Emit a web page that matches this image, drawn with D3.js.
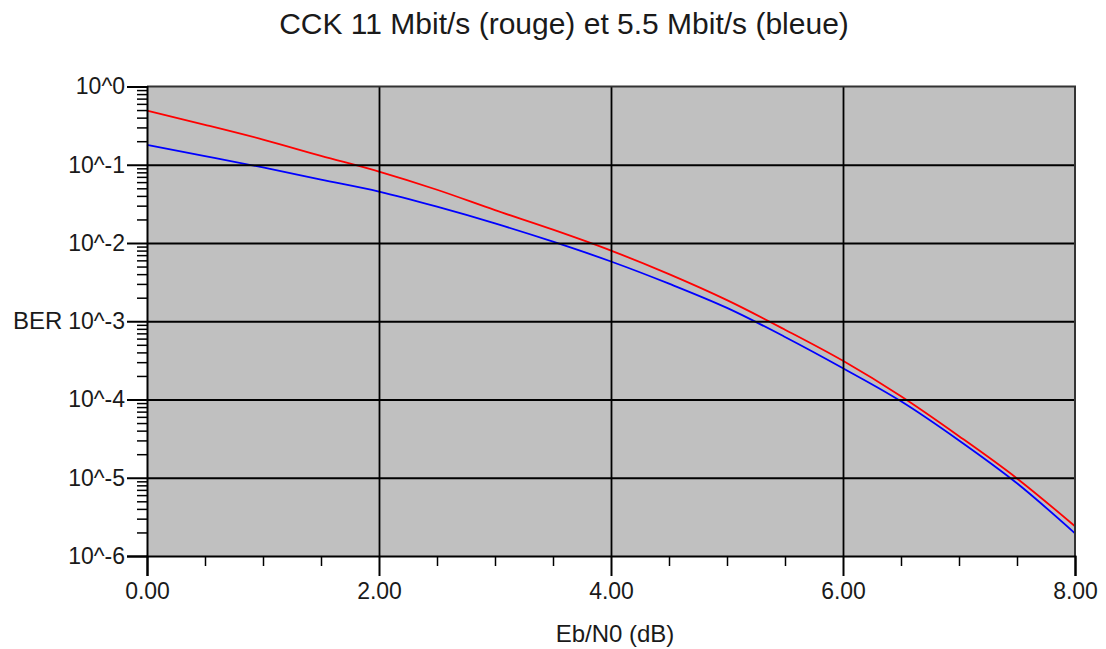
<!DOCTYPE html>
<html>
<head>
<meta charset="utf-8">
<script src="https://cdn.jsdelivr.net/npm/d3@7"></script>
<style>
	body { margin: 0; background: #fff; }
	text { font-family: "Liberation Sans", Arial, sans-serif; fill: #1a1a1a; }
</style>
</head>
<body>
<div id="chart"></div>
<script>
// Eb/N0 values (dB) at which the curves were read
var ebn0 = [0, 0.5, 1, 1.5, 2, 2.5, 3, 3.5, 4, 4.5, 5, 5.5, 6, 6.5, 7, 7.5, 8];

// CCK 11 Mbit/s (red)
var ber11 = [0.49, 0.324, 0.21, 0.13, 0.0817, 0.0479, 0.0263, 0.0148, 0.0080,
             0.0040, 0.00186, 0.00078, 0.000312, 0.00011, 3.4e-5, 9.8e-6, 2.4e-6];

// CCK 5.5 Mbit/s (blue)
var ber55 = [0.179, 0.129, 0.0923, 0.0646, 0.0454, 0.0291, 0.0178, 0.0104, 0.0058,
             0.00302, 0.00148, 0.00063, 0.000251, 9.5e-5, 3.0e-5, 8.5e-6, 1.95e-6];

// axis ticks and labels
var xTicks = [0, 2, 4, 6, 8];
var xTickLabels = ["0.00", "2.00", "4.00", "6.00", "8.00"];
var yTicks = [1, 1e-1, 1e-2, 1e-3, 1e-4, 1e-5, 1e-6];
var yTickLabels = ["10^0", "10^-1", "10^-2", "10^-3", "10^-4", "10^-5", "10^-6"];

var titleText = "CCK 11 Mbit/s (rouge) et 5.5 Mbit/s (bleue)";
var xTitle = "Eb/N0 (dB)";
var yTitle = "BER";

function drawChart()
{
	var opts = {
		width: 1106,
		height: 649,
		left: 147,      // plot area
		right: 1075,
		top: 86.5,
		bottom: 556,
		bg: "#c0c0c0"
	};

	var svg = d3.select("#chart").append("svg")
		.attr("width", opts.width)
		.attr("height", opts.height);

	var x = d3.scaleLinear().domain([0, 8]).range([opts.left, opts.right]);
	var y = d3.scaleLog().domain([1, 1e-6]).range([opts.top, opts.bottom]);

	// plot background
	svg.append("rect")
		.attr("x", opts.left)
		.attr("y", opts.top)
		.attr("width", opts.right - opts.left)
		.attr("height", opts.bottom - opts.top)
		.attr("fill", opts.bg);

	// curves
	var line = d3.line()
		.x(function(d, i) { return x(ebn0[i]); })
		.y(function(d) { return y(d); })
		.curve(d3.curveMonotoneX);

	svg.append("path").datum(ber11)
		.attr("d", line)
		.attr("fill", "none")
		.attr("stroke", "#ff0000")
		.attr("stroke-width", 1.8);

	svg.append("path").datum(ber55)
		.attr("d", line)
		.attr("fill", "none")
		.attr("stroke", "#0000ff")
		.attr("stroke-width", 1.8);

	// grid lines (drawn over the curves, like the original)
	svg.append("g")
		.attr("transform", "translate(0," + opts.bottom + ")")
		.call(d3.axisBottom(x).tickValues(xTicks.slice(1, -1))
			.tickSize(-(opts.bottom - opts.top)).tickFormat(""))
		.call(function(g) { g.select(".domain").remove(); })
		.selectAll("line").attr("stroke", "#000").attr("stroke-width", 1.8);

	svg.append("g")
		.attr("transform", "translate(" + opts.left + ",0)")
		.call(d3.axisLeft(y).tickValues(yTicks.slice(1, -1))
			.tickSize(-(opts.right - opts.left)).tickFormat(""))
		.call(function(g) { g.select(".domain").remove(); })
		.selectAll("line").attr("stroke", "#000").attr("stroke-width", 1.8);

	// frame: top and right in dark grey
	svg.append("path")
		.attr("d", "M" + opts.left + "," + opts.top + "H" + opts.right + "V" + opts.bottom)
		.attr("fill", "none")
		.attr("stroke", "#333")
		.attr("stroke-width", 2);

	// minor ticks on y axis (2..9 in each decade)
	var yMinor = [];
	yTicks.slice(0, -1).forEach(function(t) {
		for (var k = 2; k <= 9; k++) yMinor.push(t / 10 * k);
	});

	svg.append("g")
		.attr("transform", "translate(" + opts.left + ",0)")
		.call(d3.axisLeft(y).tickValues(yMinor).tickSize(10).tickFormat(""))
		.call(function(g) { g.select(".domain").remove(); })
		.selectAll("line").attr("stroke", "#000").attr("stroke-width", 1.5);

	// minor ticks on x axis (every 0.5)
	var xMinor = d3.range(0.5, 8, 0.5).filter(function(v) { return v % 2 !== 0; });

	svg.append("g")
		.attr("transform", "translate(0," + opts.bottom + ")")
		.call(d3.axisBottom(x).tickValues(xMinor).tickSize(10).tickFormat(""))
		.call(function(g) { g.select(".domain").remove(); })
		.selectAll("line").attr("stroke", "#000").attr("stroke-width", 1.5);

	// major y axis
	var yAxis = svg.append("g")
		.attr("transform", "translate(" + opts.left + ",0)")
		.call(d3.axisLeft(y).tickValues(yTicks).tickSize(20).tickPadding(2)
			.tickFormat(function(d, i) { return yTickLabels[i]; }));
	yAxis.select(".domain").attr("stroke", "#000").attr("stroke-width", 2);
	yAxis.selectAll("line").attr("stroke", "#000").attr("stroke-width", 2);
	yAxis.selectAll("text")
		.attr("font-size", 23)
		.attr("font-family", "Liberation Sans, Arial, sans-serif")
		.attr("fill", "#1a1a1a");

	// major x axis
	var xAxis = svg.append("g")
		.attr("transform", "translate(0," + opts.bottom + ")")
		.call(d3.axisBottom(x).tickValues(xTicks).tickSize(20).tickPadding(7)
			.tickFormat(function(d, i) { return xTickLabels[i]; }));
	xAxis.select(".domain").attr("stroke", "#000").attr("stroke-width", 2);
	xAxis.selectAll("line").attr("stroke", "#000").attr("stroke-width", 2);
	xAxis.selectAll("text")
		.attr("font-size", 23)
		.attr("font-family", "Liberation Sans, Arial, sans-serif")
		.attr("fill", "#1a1a1a");

	// titles
	svg.append("text")
		.attr("x", 564)
		.attr("y", 34)
		.attr("text-anchor", "middle")
		.attr("font-size", 30)
		.text(titleText);

	svg.append("text")
		.attr("x", 615)
		.attr("y", 642)
		.attr("text-anchor", "middle")
		.attr("font-size", 24)
		.text(xTitle);

	svg.append("text")
		.attr("x", 13)
		.attr("y", y(1e-3))
		.attr("dy", "0.32em")
		.attr("font-size", 24)
		.text(yTitle);
}

drawChart();
</script>
</body>
</html>
